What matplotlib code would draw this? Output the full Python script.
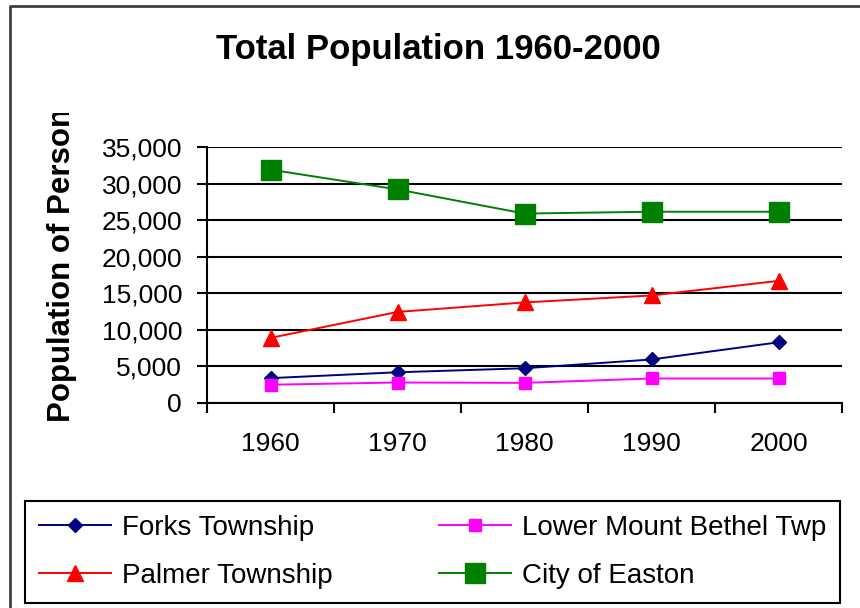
import matplotlib
matplotlib.use("Agg")
import matplotlib.pyplot as plt
from matplotlib.lines import Line2D
from matplotlib.transforms import Bbox, TransformedBbox
from matplotlib.ticker import FuncFormatter

plt.rcParams['font.family'] = ['Liberation Sans', 'DejaVu Sans']

# data
years = ["1960", "1970", "1980", "1990", "2000"]
forks = [3400, 4200, 4750, 5950, 8300]
lower_mt_bethel = [2500, 2800, 2750, 3350, 3350]
palmer = [8900, 12450, 13750, 14700, 16700]
easton = [31900, 29200, 25900, 26150, 26150]

W, H = 860, 608
fig = plt.figure(figsize=(W / 100, H / 100), dpi=100)

# plot area in pixel coords of the reference
x0, x1, ytop, ybot = 207, 842, 147, 403
ax = fig.add_axes([x0 / W, 1 - ybot / H, (x1 - x0) / W, (ybot - ytop) / H])

xs = list(range(1, len(years) + 1))
ax.plot(xs, forks, color="#000080", lw=1.4, marker="D", ms=7,
        label="Forks Township", zorder=4)
ax.plot(xs, palmer, color="#ff0000", lw=1.4, marker="^", ms=11,
        label="Palmer Township", zorder=4)
ax.plot(xs, lower_mt_bethel, color="#ff00ff", lw=1.4, marker="s", ms=9,
        label="Lower Mount Bethel Twp", zorder=4)
ax.plot(xs, easton, color="#008000", lw=1.4, marker="s", ms=14,
        label="City of Easton", zorder=4)

ax.set_xlim(0.5, len(years) + 0.5)
ax.set_ylim(0, 35000)
ax.set_yticks(range(0, 35001, 5000))
ax.yaxis.set_major_formatter(FuncFormatter(lambda v, p: "{:,.0f}".format(v)))
ax.grid(axis="y", color="black", lw=1.5, zorder=1)

ax.set_xticks(xs)
ax.set_xticklabels(years)
ax.set_xticks([i + 0.5 for i in range(len(years) + 1)], minor=True)
ax.tick_params(axis="x", which="major", length=0, pad=21, labelsize=19)
ax.tick_params(axis="x", which="minor", length=7, width=1.5, direction="out")
ax.tick_params(axis="y", length=7, width=1.5, direction="out", pad=11, labelsize=19)

for s in ["top", "right"]:
    ax.spines[s].set_visible(False)
ax.spines["left"].set_linewidth(1.5)
ax.spines["bottom"].set_linewidth(1.5)

fig.text(438 / W, 1 - 49 / H, "Total Population 1960-2000", ha="center", va="center",
         fontsize=25, fontweight="bold")

# y label is cut off at the top in the original
ylab = fig.text(62 / W, 1 - 422 / H, "Population of Persons", rotation=90,
                ha="center", va="bottom", fontsize=22.5, fontweight="bold")
ylab.set_clip_box(TransformedBbox(Bbox([[0, 0], [1, 1 - 113 / H]]), fig.transFigure))
ylab.set_clip_on(True)

handles, labels = ax.get_legend_handles_labels()
leg = fig.legend(handles, labels, loc="upper left", ncol=2, mode="expand",
                 bbox_to_anchor=(25 / W, 1 - 501 / H, 815 / W, 0),
                 borderaxespad=0, fancybox=False, framealpha=1,
                 edgecolor="black", fontsize=20, handlelength=2.6,
                 handletextpad=0.4, labelspacing=0.8, borderpad=0.5)
leg.get_frame().set_linewidth(1.5)

# outer chart border
fig.add_artist(Line2D([10 / W, 10 / W, 1], [0, 1 - 6 / H, 1 - 6 / H],
                      color="#404040", lw=2, transform=fig.transFigure))

fig.savefig("out.png", dpi=100)
